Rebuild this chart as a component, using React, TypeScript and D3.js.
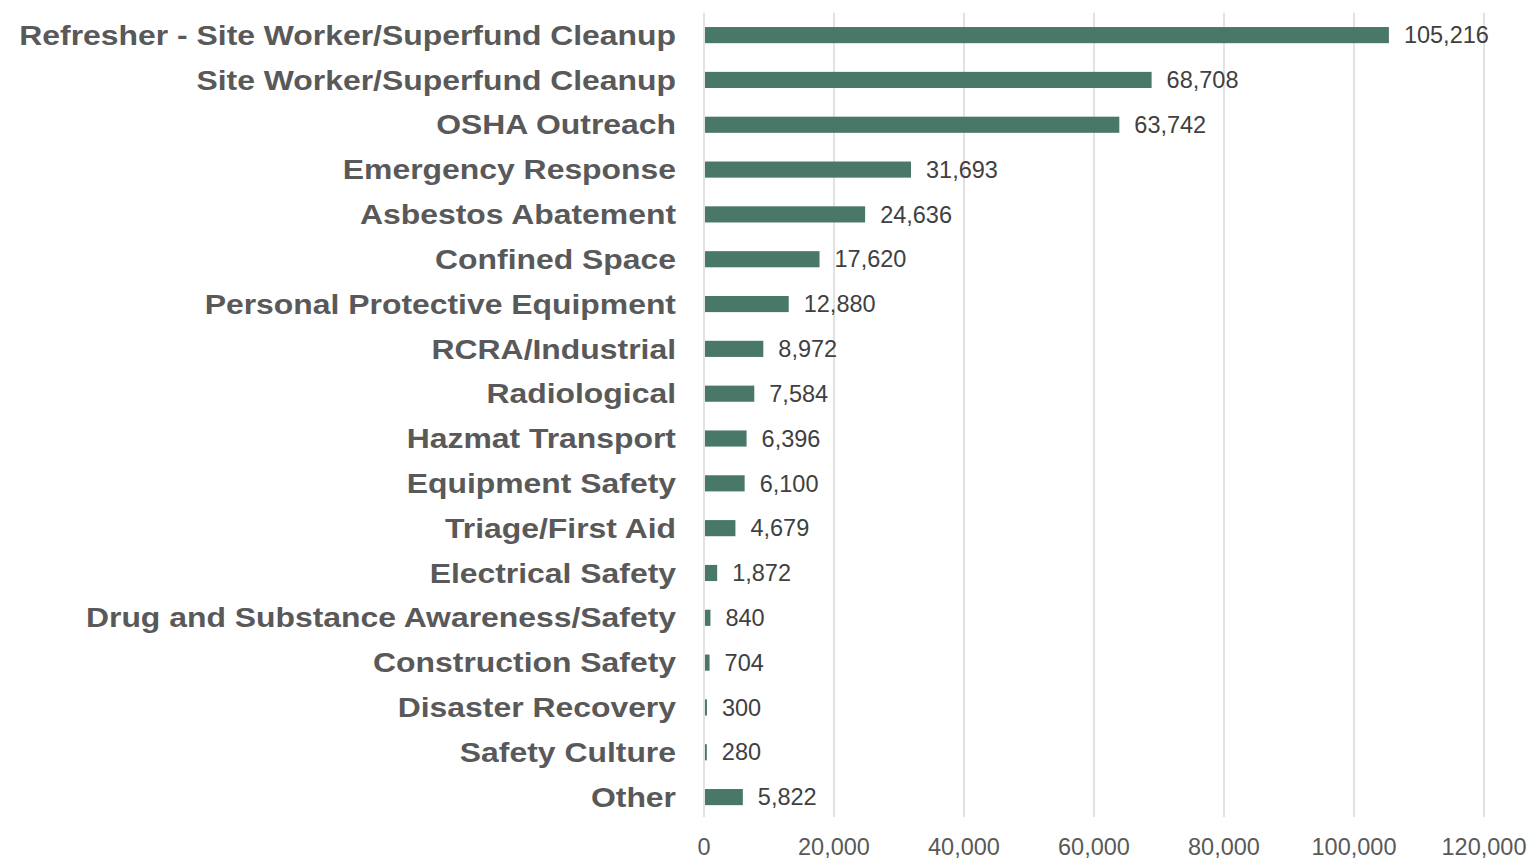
import React from "react";
import * as d3 from "d3";

const categories = [
  "Refresher - Site Worker/Superfund Cleanup",
  "Site Worker/Superfund Cleanup",
  "OSHA Outreach",
  "Emergency Response",
  "Asbestos Abatement",
  "Confined Space",
  "Personal Protective Equipment",
  "RCRA/Industrial",
  "Radiological",
  "Hazmat Transport",
  "Equipment Safety",
  "Triage/First Aid",
  "Electrical Safety",
  "Drug and Substance Awareness/Safety",
  "Construction Safety",
  "Disaster Recovery",
  "Safety Culture",
  "Other",
];
const values = [
  105216, 68708, 63742, 31693, 24636, 17620, 12880, 8972, 7584, 6396, 6100,
  4679, 1872, 840, 704, 300, 280, 5822,
];
const xTicks = [0, 20000, 40000, 60000, 80000, 100000, 120000];

const W = 1537;
const H = 865;
const left = 704;
const right = 1484;
const top = 12.7;
const bandBottom = 819.5;
const gridBottom = 817;

export default function App() {
  const x = d3.scaleLinear().domain([0, 120000]).range([left, right]);
  const y = d3
    .scaleBand<string>()
    .domain(categories)
    .range([top, bandBottom])
    .paddingInner(0.64)
    .paddingOuter(0.32);
  const fmt = d3.format(",");
  const font = "'Liberation Sans', Arial, sans-serif";
  return (
    <svg
      width={W}
      height={H}
      style={{ position: "absolute", left: 0, top: 0, background: "#fff" }}
      fontFamily={font}
    >
      {xTicks.map((t) => (
        <line
          key={"g" + t}
          x1={x(t)}
          x2={x(t)}
          y1={top}
          y2={gridBottom}
          stroke="#d9d9d9"
          strokeWidth={1.5}
        />
      ))}
      {categories.map((c, i) => {
        const yy = y(c)!;
        const bw = y.bandwidth();
        return (
          <g key={c}>
            <rect
              x={x(0) + 1}
              y={yy}
              width={Math.max(0, x(values[i]) - x(0))}
              height={bw}
              fill="#4a7868"
            />
            <text
              transform={`translate(676,${yy + bw / 2}) scale(1.16,1)`}
              dy="0.35em"
              textAnchor="end"
              fontSize={27.5}
              fontWeight="bold"
              fill="#595959"
            >
              {c}
            </text>
            <text
              x={x(values[i]) + 16}
              y={yy + bw / 2}
              dy="0.35em"
              fontSize={23.5}
              fill="#404040"
            >
              {fmt(values[i])}
            </text>
          </g>
        );
      })}
      {xTicks.map((t) => (
        <text
          key={"t" + t}
          x={x(t)}
          y={847}
          dy="0.35em"
          textAnchor="middle"
          fontSize={23.5}
          fill="#595959"
        >
          {fmt(t)}
        </text>
      ))}
    </svg>
  );
}
